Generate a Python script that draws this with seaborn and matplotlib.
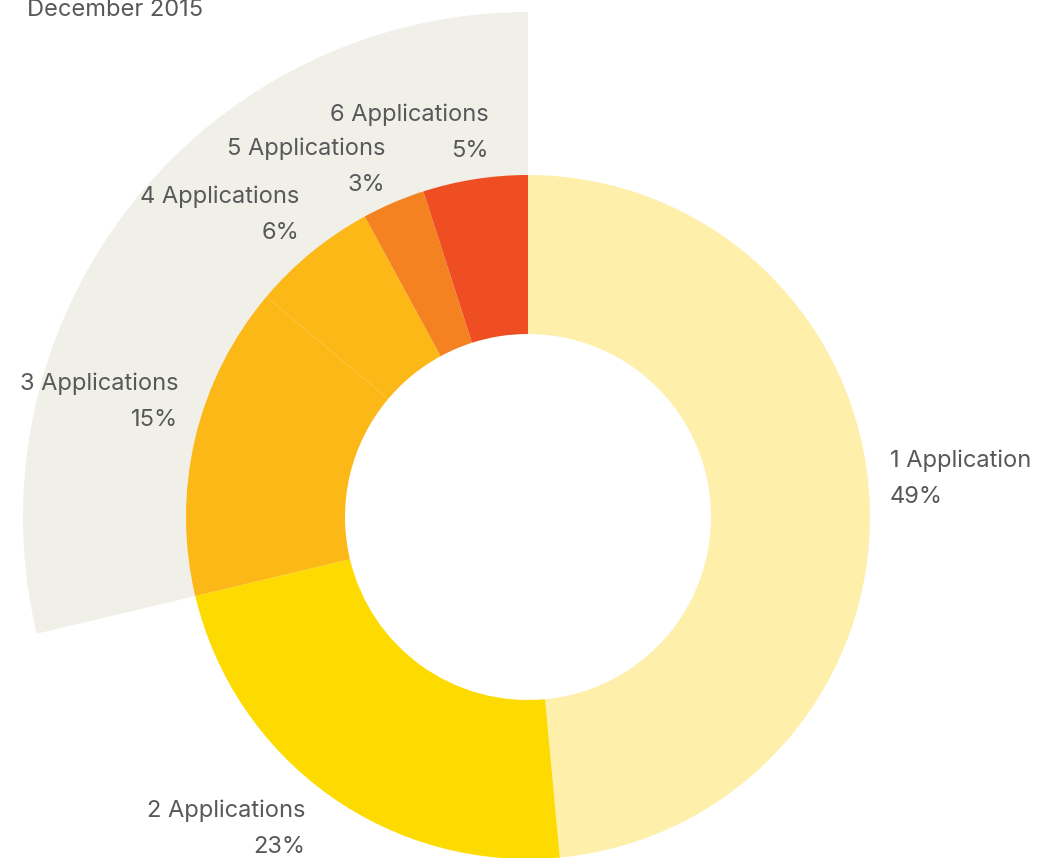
import matplotlib
matplotlib.use("Agg")
import matplotlib.pyplot as plt
import seaborn as sns

# data
labels = ["1 Application", "2 Applications", "3 Applications",
          "4 Applications", "5 Applications", "6 Applications"]
shares = [49, 23, 15, 6, 3, 5]
title = "December 2015"

colors = ["#FEEFAB", "#FDDB00", "#FBB817", "#FBB817", "#F48220", "#EF4E23"]
BG = "#F1F0E8"
TXT = "#58585A"

sns.set_theme(style="white")
plt.rcParams["font.family"] = ["Inter", "DejaVu Sans"]

W, H = 1038, 858
fig = plt.figure(figsize=(W / 100, H / 100), dpi=100)
ax = fig.add_axes([0, 0, 1, 1])

cx, cy = 528, H - 517
r_out, r_in, r_bg = 342, 183, 505

# pale backdrop behind the small slices (3-6 applications), ring outside the donut
bg_cols = ["none", "none"] + [BG] * 4
ax.pie(shares, colors=bg_cols, startangle=90, counterclock=False,
       radius=r_bg, center=(cx, cy), frame=True,
       wedgeprops=dict(width=r_bg - r_out + 3, linewidth=0))

ax.pie(shares, colors=colors, startangle=90, counterclock=False,
       radius=r_out, center=(cx, cy), frame=True,
       wedgeprops=dict(width=r_out - r_in, linewidth=0))
ax.set_xlim(0, W)
ax.set_ylim(0, H)
ax.set_aspect("equal")
ax.axis("off")

# label anchors in pixel coords (x, y of first line, alignment)
label_pos = [(890, 461, "left"), (305, 811, "right"), (178, 384, "right"),
             (299, 197, "right"), (385, 149, "right"), (489, 115, "right")]
fs = 17
for lab, v, (x, y, ha) in zip(labels, shares, label_pos):
    ax.text(x, H - y, lab, ha=ha, va="center", fontsize=fs, color=TXT)
    ax.text(x, H - y - 36, f"{v}%", ha=ha, va="center", fontsize=fs, color=TXT)

ax.text(27, H - 16, title, ha="left", va="baseline", fontsize=fs, color=TXT)

fig.savefig("out.png", dpi=100)
